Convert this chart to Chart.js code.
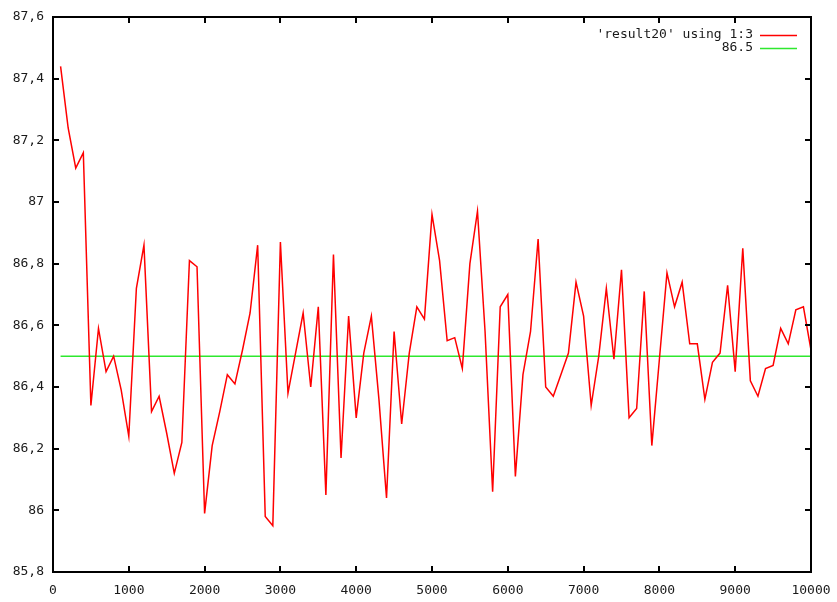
<!DOCTYPE html>
<html>
<head>
<meta charset="utf-8">
<title>result20</title>
<script src="https://cdn.jsdelivr.net/npm/chart.js@4/dist/chart.umd.min.js"></script>
<style>
  html,body{margin:0;padding:0;background:#fff;}
  #wrap{width:837px;height:602px;}
</style>
</head>
<body>
<div id="wrap"><canvas id="grafico" width="837" height="602"></canvas></div>
<script>
// ── datos (columna 1 = iteración, columna 3 = valor) ──
const iters = [
  100,200,300,400,500,600,700,800,900,1000,
  1100,1200,1300,1400,1500,1600,1700,1800,1900,2000,
  2100,2200,2300,2400,2500,2600,2700,2800,2900,3000,
  3100,3200,3300,3400,3500,3600,3700,3800,3900,4000,
  4100,4200,4300,4400,4500,4600,4700,4800,4900,5000,
  5100,5200,5300,5400,5500,5600,5700,5800,5900,6000,
  6100,6200,6300,6400,6500,6600,6700,6800,6900,7000,
  7100,7200,7300,7400,7500,7600,7700,7800,7900,8000,
  8100,8200,8300,8400,8500,8600,8700,8800,8900,9000,
  9100,9200,9300,9400,9500,9600,9700,9800,9900,10000
];
const result20 = [
  87.44,87.24,87.11,87.16,86.34,86.59,86.45,86.50,86.39,86.24,
  86.72,86.86,86.32,86.37,86.25,86.12,86.22,86.81,86.79,85.99,
  86.21,86.32,86.44,86.41,86.52,86.64,86.86,85.98,85.95,86.87,
  86.38,86.51,86.64,86.40,86.66,86.05,86.83,86.17,86.63,86.30,
  86.51,86.63,86.36,86.04,86.58,86.28,86.51,86.66,86.62,86.96,
  86.81,86.55,86.56,86.46,86.80,86.97,86.58,86.06,86.66,86.70,
  86.11,86.44,86.58,86.88,86.40,86.37,86.44,86.51,86.74,86.63,
  86.34,86.50,86.72,86.49,86.78,86.30,86.33,86.71,86.21,86.49,
  86.77,86.66,86.74,86.54,86.54,86.36,86.48,86.51,86.73,86.45,
  86.85,86.42,86.37,86.46,86.47,86.59,86.54,86.65,86.66,86.52
];
const nivel = 86.5;
const labels = ["'result20' using 1:3", "86.5"];
const xTicks = [0,1000,2000,3000,4000,5000,6000,7000,8000,9000,10000];
const yTicks = [85.8,86,86.2,86.4,86.6,86.8,87,87.2,87.4,87.6];

const P = { red:'#ff0000', green:'#2ee82e', ink:'#000', text:'#1a1a1a' };
const FONT = '"DejaVu Sans Mono", "Liberation Mono", monospace';

// formato gnuplot con coma decimal: 87,6 · 87 · 86,2
const fmtY = v => String(Number(Number(v).toFixed(1))).replace('.', ',');

/* ── marco + ticks hacia dentro en los 4 lados ── */
const marco = {
  id:'marco',
  afterDraw(chart){
    const { ctx, chartArea:a, scales:{x, y} } = chart;
    ctx.save();
    ctx.strokeStyle = P.ink; ctx.lineWidth = 2;
    ctx.strokeRect(a.left, a.top, a.right - a.left, a.bottom - a.top);
    ctx.beginPath();
    xTicks.forEach(t => {
      const px = Math.round(x.getPixelForValue(t));
      ctx.moveTo(px, a.bottom); ctx.lineTo(px, a.bottom - 6);
      ctx.moveTo(px, a.top);    ctx.lineTo(px, a.top + 6);
    });
    yTicks.forEach(t => {
      const py = Math.round(y.getPixelForValue(t));
      ctx.moveTo(a.left, py);  ctx.lineTo(a.left + 6, py);
      ctx.moveTo(a.right, py); ctx.lineTo(a.right - 6, py);
    });
    ctx.stroke();

    // leyenda estilo gnuplot: texto a la derecha, muestra de línea después
    ctx.font = '13px ' + FONT;
    ctx.textAlign = 'right'; ctx.textBaseline = 'middle';
    ctx.lineWidth = 1.5;
    chart.data.datasets.forEach((ds, i) => {
      const ly = 35 + i * 13;
      ctx.fillStyle = P.text;
      ctx.fillText(ds.label, 753, ly);
      ctx.strokeStyle = ds.borderColor;
      ctx.beginPath(); ctx.moveTo(760, ly + 0.5); ctx.lineTo(797, ly + 0.5); ctx.stroke();
    });
    ctx.restore();
  }
};

new Chart(document.getElementById('grafico'), {
  type:'line',
  data:{ datasets:[
    { label:labels[0], data:iters.map((x, i) => ({ x, y:result20[i] })),
      borderColor:P.red, borderWidth:1.5, pointRadius:0, tension:0, fill:false },
    { label:labels[1], data:[{ x:iters[0], y:nivel }, { x:iters[iters.length - 1], y:nivel }],
      borderColor:P.green, borderWidth:1.5, pointRadius:0, tension:0, fill:false }
  ]},
  options:{
    responsive:false, animation:false,
    layout:{ padding:{ top:17, right:26, left:0, bottom:0 } },
    plugins:{ legend:{ display:false }, tooltip:{ enabled:false } },
    scales:{
      x:{ type:'linear', min:0, max:10000,
        afterBuildTicks:s => { s.ticks = xTicks.map(v => ({ value:v })); },
        afterFit:s => { s.height = 30; },
        grid:{ display:false }, border:{ display:false },
        ticks:{ padding:3, maxRotation:0, autoSkip:false, color:P.text,
          font:{ size:13, family:FONT }, callback:v => String(v) } },
      y:{ type:'linear', min:85.8, max:87.6,
        afterBuildTicks:s => { s.ticks = yTicks.map(v => ({ value:v })); },
        afterFit:s => { s.width = 53; },
        grid:{ display:false }, border:{ display:false },
        ticks:{ padding:1, autoSkip:false, color:P.text,
          font:{ size:13, family:FONT }, callback:v => fmtY(v) } }
    }
  },
  plugins:[marco]
});
</script>
</body>
</html>
